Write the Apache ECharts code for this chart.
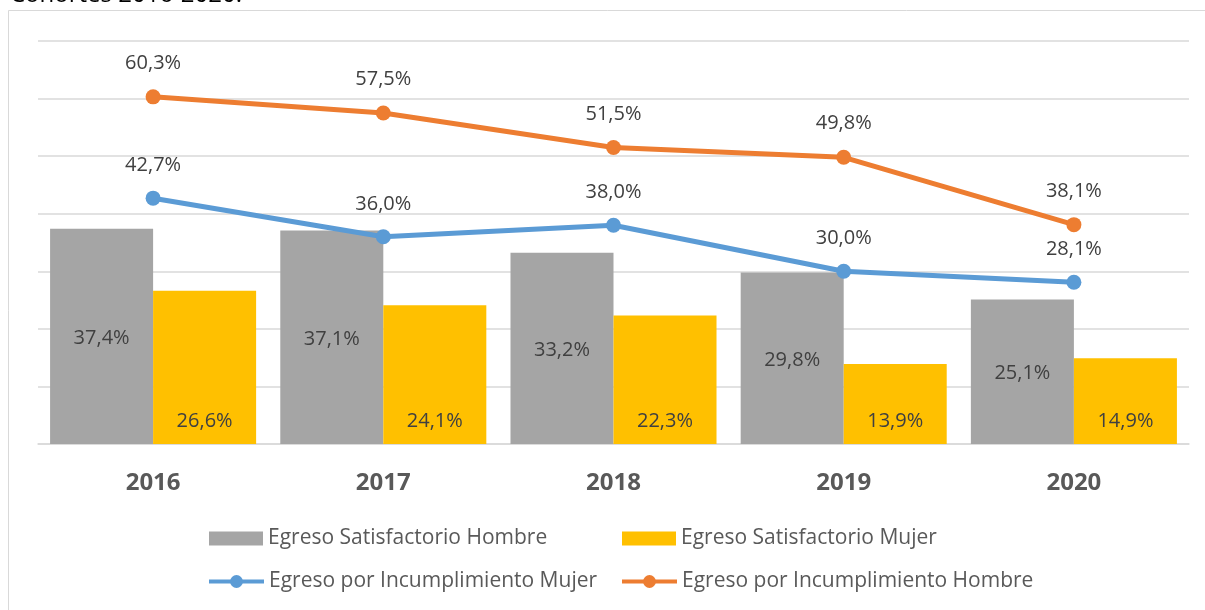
<!DOCTYPE html>
<html>
<head>
<meta charset="utf-8">
<script src="https://cdn.jsdelivr.net/npm/echarts@6/dist/echarts.min.js"></script>
<style>html,body{margin:0;padding:0;background:#fff;}#c{width:1205px;height:610px;}</style>
</head>
<body>
<div id="c"></div>
<script>
const categories = ['2016', '2017', '2018', '2019', '2020'];
const satisfactorioHombre = [37.4, 37.1, 33.2, 29.8, 25.1];
const satisfactorioMujer = [26.6, 24.1, 22.3, 13.9, 14.9];
const incumplimientoMujer = [42.7, 36.0, 38.0, 30.0, 28.1];
const incumplimientoHombre = [60.3, 57.5, 51.5, 49.8, 38.1];
const seriesNames = ['Egreso Satisfactorio Hombre', 'Egreso Satisfactorio Mujer', 'Egreso por Incumplimiento Mujer', 'Egreso por Incumplimiento Hombre'];
const titleText = 'Cohortes 2016-2020.';

const FONT = 'Open Sans';
const fmt = p => p.value.toFixed(1).replace('.', ',') + '%';

const chart = echarts.init(document.getElementById('c'), null, {renderer: 'canvas'});
const legendBase = {
  orient: 'horizontal',
  padding: 0,
  itemWidth: 54,
  itemHeight: 14,
  itemGap: 10,
  textStyle: {fontFamily: FONT, fontSize: 21, color: '#595959'},
  selectedMode: false
};
const lineLegend = Object.assign({}, legendBase, {itemWidth: 55, itemHeight: 16, lineStyle: {width: 4}});
chart.setOption({
  animation: false,
  backgroundColor: '#ffffff',
  textStyle: {fontFamily: FONT},
  graphic: [
    {type: 'rect', silent: true, shape: {x: 8.5, y: 10.5, width: 1400, height: 800}, style: {fill: 'none', stroke: '#D9D9D9', lineWidth: 1}},
    {type: 'text', silent: true, x: 10, y: 7, style: {text: titleText, font: '24px "Open Sans"', fill: '#000000', textVerticalAlign: 'bottom', verticalAlign: 'bottom'}}
  ],
  grid: {left: 38, right: 16, top: 41, bottom: 166, containLabel: false},
  legend: [
    Object.assign({}, legendBase, {data: [{name: seriesNames[0], icon: 'rect'}], left: 209, top: 528}),
    Object.assign({}, legendBase, {data: [{name: seriesNames[1], icon: 'rect'}], left: 622, top: 528}),
    Object.assign({}, lineLegend, {data: [seriesNames[2]], left: 207, top: 571}),
    Object.assign({}, lineLegend, {data: [seriesNames[3]], left: 620, top: 571})
  ],
  xAxis: {
    type: 'category',
    data: categories,
    axisLine: {lineStyle: {color: '#D9D9D9', width: 1.5}},
    axisTick: {show: false},
    axisLabel: {fontFamily: FONT, fontSize: 24, fontWeight: 'bold', color: '#595959', margin: 27}
  },
  yAxis: {
    type: 'value',
    min: 0, max: 70, interval: 10,
    axisLabel: {show: false},
    axisLine: {show: false},
    axisTick: {show: false},
    splitLine: {lineStyle: {color: '#D9D9D9', width: 1.5}}
  },
  series: [
    {
      name: seriesNames[0], type: 'bar', data: satisfactorioHombre,
      barGap: '0%', barCategoryGap: '10.5%',
      itemStyle: {color: '#A5A5A5'},
      label: {show: true, position: 'inside', offset: [0, 2], formatter: fmt, fontFamily: FONT, fontSize: 20, color: '#404040'}
    },
    {
      name: seriesNames[1], type: 'bar', data: satisfactorioMujer,
      barGap: '0%', barCategoryGap: '10.5%',
      itemStyle: {color: '#FFC000'},
      label: {show: true, position: 'insideBottom', distance: 13, formatter: fmt, fontFamily: FONT, fontSize: 20, color: '#404040'}
    },
    {
      name: seriesNames[2], type: 'line', data: incumplimientoMujer,
      symbol: 'circle', symbolSize: 15,
      lineStyle: {color: '#5B9BD5', width: 5},
      itemStyle: {color: '#5B9BD5'},
      label: {show: true, position: 'top', distance: 15, formatter: fmt, fontFamily: FONT, fontSize: 20, color: '#404040'}
    },
    {
      name: seriesNames[3], type: 'line', data: incumplimientoHombre,
      symbol: 'circle', symbolSize: 15,
      lineStyle: {color: '#ED7D31', width: 5},
      itemStyle: {color: '#ED7D31'},
      label: {show: true, position: 'top', distance: 16, formatter: fmt, fontFamily: FONT, fontSize: 20, color: '#404040'}
    }
  ]
});
</script>
</body>
</html>
